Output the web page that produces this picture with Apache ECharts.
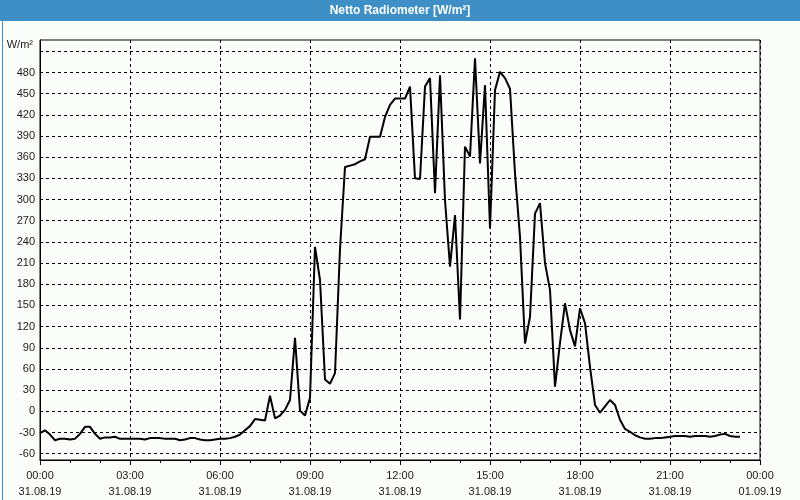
<!DOCTYPE html>
<html>
<head>
<meta charset="utf-8">
<script src="https://cdn.jsdelivr.net/npm/echarts@6/dist/echarts.min.js"></script>
<style>
html,body{margin:0;padding:0;background:#fbfdfb;}
#chart{width:800px;height:500px;}
</style>
</head>
<body>
<div id="chart"></div>
<script>
// ---- data ----
const titleText = 'Netto Radiometer [W/m²]';
const unitLabel = 'W/m²';
const startHour = 0;          // 31.08.19 00:00
const stepMinutes = 10;       // sampling interval
// Netto radiation values, W/m², every 10 minutes from 00:00
const radiation = [
  -31, -27, -33, -41, -39, -39, -40, -39, -32, -22,
  -22, -32, -39, -37, -37, -36, -39, -39, -39, -39,
  -39, -40, -38, -38, -38, -39, -39, -39, -41, -40,
  -38, -38, -40, -41, -41, -40, -39, -39, -38, -36,
  -33, -27, -21, -11, -12, -13, 22, -10, -6, 2,
  16, 104, 1, -6, 19, 233, 186, 45, 39, 54,
  230, 346, 348, 350, 354, 357, 389, 389, 389, 417,
  434, 443, 443, 443, 460, 330, 329, 460, 472, 309,
  476, 299, 205, 278, 130, 375, 361, 500, 351, 462,
  259, 455, 481, 472, 457, 337, 247, 96, 134, 280,
  295, 210, 172, 35, 97, 153, 115, 92, 146, 125,
  63, 9, -2, 7, 16, 9, -12, -25, -29, -34,
  -37, -39, -39, -38, -38, -37, -36, -35, -35, -35,
  -36, -35, -35, -35, -36, -35, -33, -32, -35, -36,
  -36
];
const xTimeLabels = ['00:00','03:00','06:00','09:00','12:00','15:00','18:00','21:00','00:00'];
const xDateLabels = ['31.08.19','31.08.19','31.08.19','31.08.19','31.08.19','31.08.19','31.08.19','31.08.19','01.09.19'];
const yGridValues = [-60,-30,0,30,60,90,120,150,180,210,240,270,300,330,360,390,420,450,480,510];
const yLabelValues = [-60,-30,0,30,60,90,120,150,180,210,240,270,300,330,360,390,420,450,480];
const yMin = -69, yMax = 526;
const xMin = 0, xMax = 24, xStep = 3;

const seriesData = radiation.map((v, i) => [startHour + i * stepMinutes / 60, v]);

const chart = echarts.init(document.getElementById('chart'), null, {renderer: 'canvas'});
const font = 'Liberation Sans, Arial, sans-serif';
chart.setOption({
  backgroundColor: '#fbfdfb',
  animation: false,
  grid: {left: 40, right: 40, top: 40, bottom: 40, show: true, borderColor: '#000', borderWidth: 1, backgroundColor: 'transparent'},
  graphic: [
    {type: 'rect', left: 0, top: 0, shape: {width: 800, height: 21}, style: {fill: '#3d8fc6'}, z: 10},
    {type: 'rect', left: 0, top: 0, shape: {x: 0.5, y: 0.5, width: 799, height: 499}, style: {fill: 'none', stroke: '#3d8fc6', lineWidth: 1}, z: 10, silent: true},
    {type: 'text', x: 400, y: 10.5, style: {text: titleText, fill: '#fff', font: 'bold 12px ' + font, textAlign: 'center', textVerticalAlign: 'middle'}, z: 11}
  ],
  xAxis: {
    type: 'value', min: xMin, max: xMax, interval: xStep,
    axisLine: {show: true, onZero: false, lineStyle: {color: '#000', width: 1}},
    axisTick: {show: true, length: 5, lineStyle: {color: '#000'}},
    minorTick: {show: true, splitNumber: 3, length: 3, lineStyle: {color: '#000'}},
    splitLine: {show: true, lineStyle: {color: '#000', type: [3, 3], width: 1}},
    axisLabel: {
      margin: 8, fontSize: 11, fontFamily: font, color: '#1a1a1a', lineHeight: 16,
      formatter: v => { const k = Math.round((v - xMin) / xStep); return xTimeLabels[k] + '\n' + xDateLabels[k]; }
    }
  },
  yAxis: {
    type: 'value', min: yMin, max: yMax,
    name: unitLabel, nameLocation: 'end', nameGap: -5,
    nameTextStyle: {fontSize: 11, fontFamily: font, color: '#1a1a1a', align: 'right', verticalAlign: 'middle', padding: [0, 7, 0, 0]},
    axisLine: {show: true, onZero: false, lineStyle: {color: '#000'}},
    axisTick: {show: false, customValues: yGridValues},
    splitLine: {show: true, lineStyle: {color: '#000', type: [3, 3], width: 1}},
    axisLabel: {customValues: yLabelValues, margin: 5, fontSize: 11, fontFamily: font, color: '#1a1a1a'}
  },
  series: [{
    type: 'line', data: seriesData, showSymbol: false, symbol: 'none',
    lineStyle: {color: '#000', width: 2}, clip: true
  }]
});
</script>
</body>
</html>
